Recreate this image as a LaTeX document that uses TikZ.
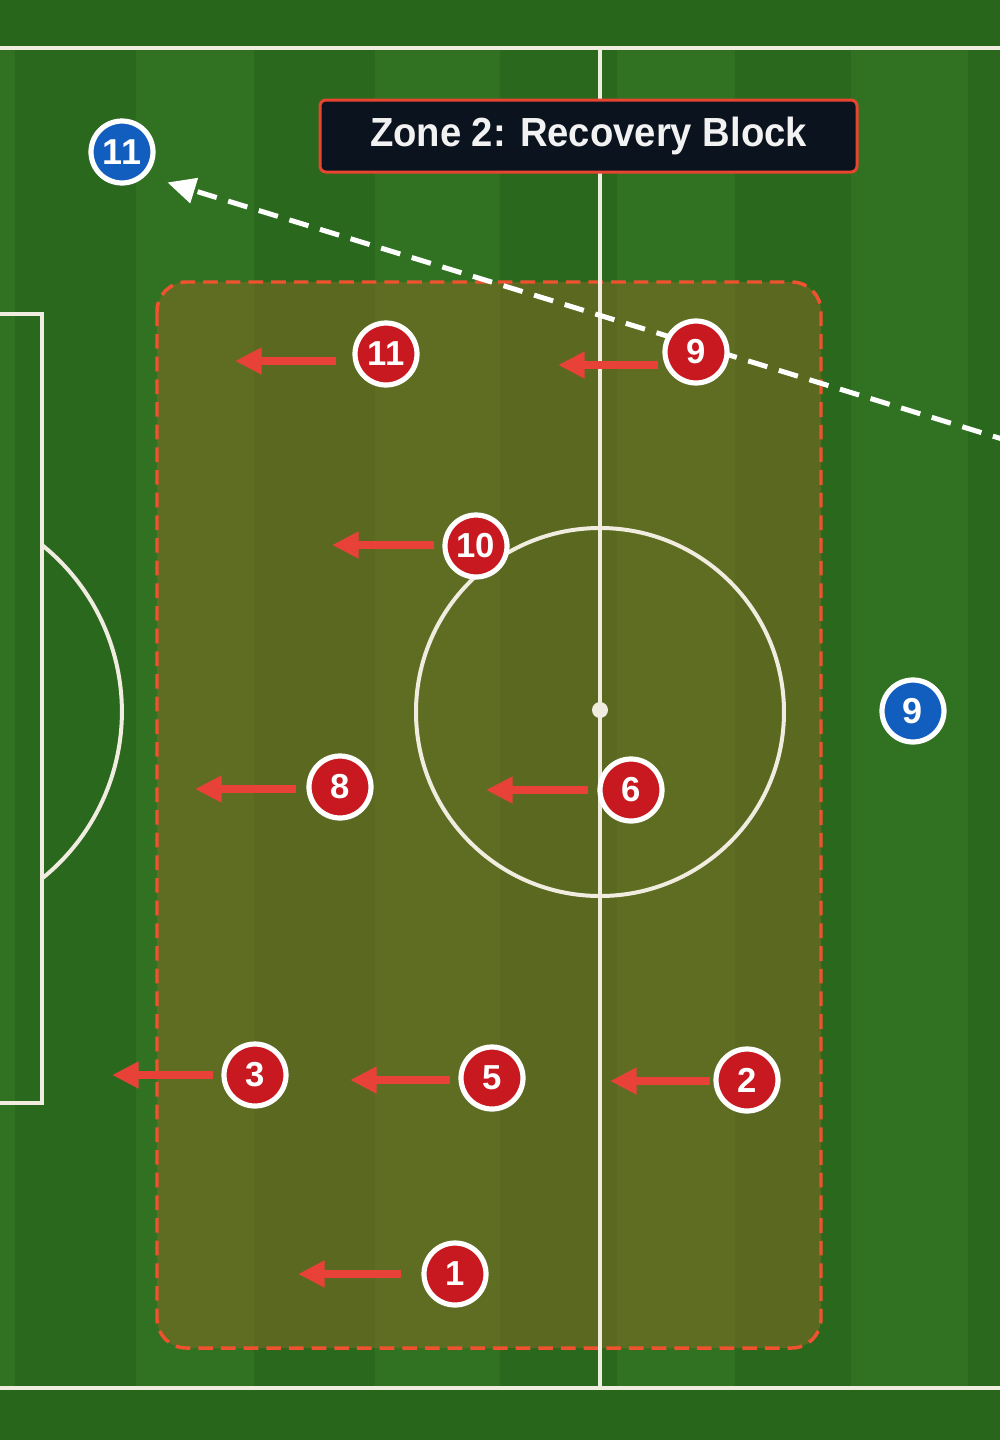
\documentclass[tikz,border=0pt]{standalone}
\usepackage{fontspec}
\setmainfont{Liberation Sans}
\newfontfamily\titlefont{Liberation Sans}[FakeStretch=0.94]
\usetikzlibrary{arrows.meta,shadows,calc}
\definecolor{outgreen}{RGB}{40,103,27}
\definecolor{lightstripe}{RGB}{48,114,34}
\definecolor{darkstripe}{RGB}{42,104,29}
\definecolor{cream}{RGB}{240,236,224}
\definecolor{zonefill}{RGB}{150,104,36}
\definecolor{zoneline}{RGB}{240,82,48}
\definecolor{pred}{RGB}{200,24,32}
\definecolor{pblue}{RGB}{18,94,190}
\definecolor{runred}{RGB}{232,66,56}
\definecolor{titlebg}{RGB}{11,20,30}
\definecolor{titleline}{RGB}{232,68,48}
\pgfdeclarelayer{field}
\pgfdeclarelayer{passlayer}
\pgfsetlayers{field,passlayer,main}
\begin{document}
\begin{tikzpicture}[x=0.75pt,y=-0.75pt,
  pitchline/.style={draw=cream,line width=3pt},
  zonefillst/.style={fill=zonefill,fill opacity=0.45,rounded corners=22pt},
  zoneborder/.style={draw=zoneline,line width=2.6pt,dash pattern=on 11pt off 6pt,rounded corners=22pt},
  player/.style={circle,draw=white,line width=3.9pt,minimum size=46.5pt,inner sep=0pt,text=white,
    drop shadow={shadow xshift=0.6pt,shadow yshift=-1.8pt,opacity=0.35,fill=black}},
  redp/.style={player,fill=pred,font=\fontsize{26}{26}\selectfont\bfseries},
  bluep/.style={player,fill=pblue,font=\fontsize{27}{27}\selectfont\bfseries},
  run/.style={draw=runred,line width=6pt,-{Triangle[length=20pt,width=19pt]}},
  pass/.style={draw=white,line width=3.75pt,dash pattern=on 15pt off 9pt,-{Triangle[length=21pt,width=19pt]},shorten >=17pt},
  titlebox/.style={draw=titleline,line width=2.25pt,fill=titlebg,rounded corners=4.5pt,text=white!95!black,
    minimum width=402.75pt,minimum height=54pt,inner sep=0pt,font=\titlefont\bfseries\fontsize{30.5}{30.5}\selectfont}
]
\useasboundingbox (0,0) rectangle (1000,1440);

% title
\node[titlebox] (title) at (588.5,136) {Zone 2: Recovery Block};

% red players
\node[redp] (p11) at (386,354) {11};
\node[redp] (p9) at (696,352) {9};
\node[redp] (p10) at (476,546) {10};
\node[redp] (p8) at (340,787) {8};
\node[redp] (p6) at (631,790) {6};
\node[redp] (p3) at (255,1075) {3};
\node[redp] (p5) at (492,1078) {5};
\node[redp] (p2) at (747,1080) {2};
\node[redp] (p1) at (455,1274) {1};

% blue players
\node[bluep] (b11) at (122,152) {11};
\node[bluep] (b9) at (913,711) {9};

% run targets
\coordinate (t11) at (235,361);
\coordinate (t9) at (558,365);
\coordinate (t10) at (332,545);
\coordinate (t8) at (195,789);
\coordinate (t6) at (486,790);
\coordinate (t3) at (112,1075);
\coordinate (t5) at (350,1080);
\coordinate (t2) at (610,1081);
\coordinate (t1) at (298,1274);

\draw[run] ($(p11.west |- t11)+(-12pt,0)$) -- (t11);
\draw[run] ($(p9.west |- t9)+(-3pt,0)$) -- (t9);
\draw[run] ($(p10.west |- t10)+(-6pt,0)$) -- (t10);
\draw[run] ($(p8.west |- t8)+(-7.5pt,0)$) -- (t8);
\draw[run] ($(p6.west |- t6)+(-7pt,0)$) -- (t6);
\draw[run] ($(p3.west |- t3)+(-6pt,0)$) -- (t3);
\draw[run] ($(p5.west |- t5)+(-6pt,0)$) -- (t5);
\draw[run] ($(p2.west |- t2)+(-2.5pt,0)$) -- (t2);
\draw[run] ($(p1.west |- t1)+(-15pt,0)$) -- (t1);

% pass line
\begin{pgfonlayer}{passlayer}
\coordinate (passstart) at (1012,442);
\draw[pass] (passstart) -- (b11.south east);
\end{pgfonlayer}

% field
\begin{pgfonlayer}{field}
\fill[outgreen] (0,0) rectangle (1000,1440);
\fill[lightstripe] (0,48) rectangle (1000,1388);
\foreach \a/\b in {15/136,254/375,500/617,735/851,968/1000}
  \fill[darkstripe] (\a,48) rectangle (\b,1388);
\path[zonefillst] (157,282) rectangle (821,1348);
\draw[zoneborder] (157,282) rectangle (821,1348);
\draw[pitchline] (0,48) -- (1000,48);
\draw[pitchline] (0,1388) -- (1000,1388);
\draw[pitchline] (600,48) -- (600,1388);
\draw[pitchline] (600,712) circle[radius=138pt];
\fill[cream] (600,710) circle[radius=6pt];
\draw[pitchline] (0,314) -- (42,314) -- (42,1103) -- (0,1103);
\draw[pitchline] (42,545) arc[start angle=51.2,end angle=-51.2,radius=160.5pt];
\end{pgfonlayer}
\end{tikzpicture}
\end{document}
